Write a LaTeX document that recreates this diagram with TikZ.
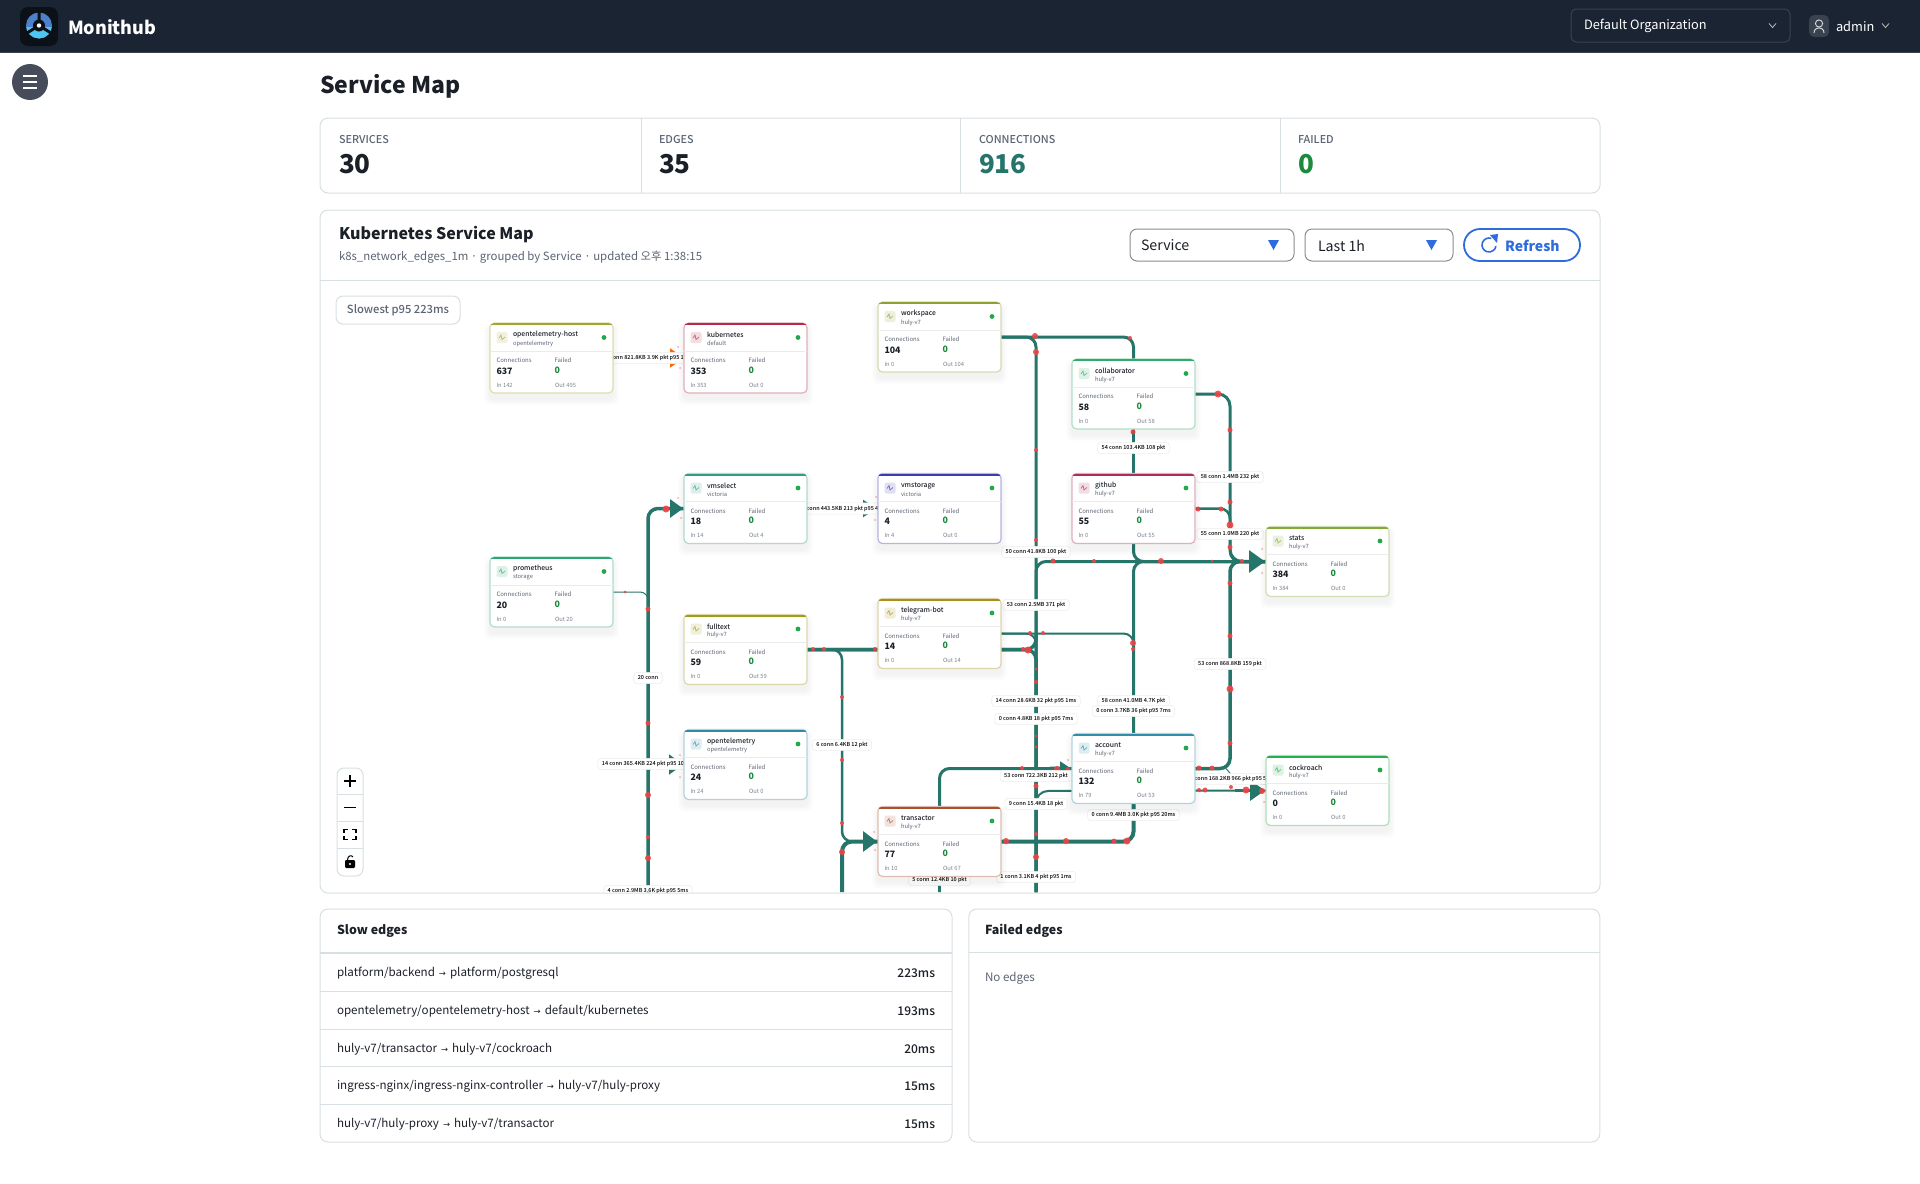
\documentclass[tikz,border=0pt]{standalone}
\usepackage{fontspec}
\setmainfont{Noto Sans CJK KR}
\newfontfamily\medfont{Noto Sans CJK KR Medium}
\newfontfamily\symfont{DejaVu Sans}
\usetikzlibrary{arrows.meta}

\definecolor{navbar}{HTML}{1A2433}
\definecolor{navedge}{HTML}{39434F}
\definecolor{panelline}{HTML}{D8DFE2}
\definecolor{flow}{HTML}{26756B}
\definecolor{pkt}{HTML}{EF4444}
\definecolor{inkmain}{HTML}{1B1F27}
\definecolor{inkmuted}{HTML}{5C6573}
\definecolor{okgreen}{HTML}{1A8A3C}
\definecolor{linkblue}{HTML}{2F6BDC}
\definecolor{sidebtn}{HTML}{474C5A}
\definecolor{dotgreen}{HTML}{22A84A}
% top bars of the cards
\definecolor{topohost}{HTML}{A3A52E}
\definecolor{topkube}{HTML}{B32A4A}
\definecolor{topwork}{HTML}{8F9F30}
\definecolor{topcollab}{HTML}{2FAA68}
\definecolor{topvmsel}{HTML}{2F9E85}
\definecolor{topstore}{HTML}{3C3CB0}
\definecolor{topghub}{HTML}{AE2C5C}
\definecolor{topprom}{HTML}{2CA672}
\definecolor{topstats}{HTML}{84A83A}
\definecolor{topfull}{HTML}{A09C1E}
\definecolor{topbot}{HTML}{A88F1F}
\definecolor{topotel}{HTML}{2F8AA5}
\definecolor{topacct}{HTML}{2F8EA8}
\definecolor{topcrdb}{HTML}{26AD4D}
\definecolor{toptrans}{HTML}{A8502F}

\newcommand{\fsz}[1]{\fontsize{#1}{#1}\selectfont}

\tikzset{
    lbl/.style={inner sep=0pt,outer sep=0pt,anchor=west,text=inkmain},
    panel/.style={draw=panelline,line width=0.5pt,fill=white,rounded corners=4pt,
        inner sep=0pt,outer sep=0pt},
    rule/.style={draw=panelline,line width=0.5pt},
    select/.style={draw=#1,line width=0.5pt,fill=white,rounded corners=3.5pt,
        inner sep=0pt,outer sep=0pt},
    wire/.style={draw=flow,line width=#1*0.5pt,rounded corners=5pt,line cap=butt},
    wire/.default=3,
    bigtip/.style 2 args={-{Triangle[length=#1*0.5pt,width=#2*0.5pt,fill=flow]},shorten >=0.5pt},
    edgelbl/.style={fill=white,draw=black!7,line width=0.3pt,rounded corners=1.5pt,
        font=\medfont\fsz{2.75},text=black,inner xsep=2pt,inner ysep=0pt,
        minimum height=5.6pt,outer sep=0pt},
    cardbox/.style={draw=#1!38!white,line width=0.6pt,fill=white,rounded corners=2.2pt,
        minimum width=61.5pt,minimum height=35pt,inner sep=0pt,outer sep=0pt},
    zoombtn/.style={draw=black,line width=0.7pt,line cap=butt},
}

% one service card, centre at (#2,#3)
\newcommand{\svccard}[8]{%
    \begin{scope}[shift={(#2,#3)}]
        \foreach \s in {1,...,6}
            \fill[black,opacity=0.009,rounded corners=3pt]
                (-61.5-\s,-35-\s+6) rectangle (61.5+\s,35+\s+6);
    \end{scope}
    \node[cardbox=#8] (#1) at (#2,#3) {};
    \begin{scope}[shift={(#2,#3)}]
        \begin{scope}
            \clip[rounded corners=2.2pt] (-61.5,-35) rectangle (61.5,35);
            \fill[#8] (-61.5,-35) rectangle (61.5,-32.6);
        \end{scope}
        \draw[black!8,line width=0.4pt] (-61.5,-7) -- (61.5,-7);
        \fill[#8!16!white,rounded corners=1pt] (-55,-26) rectangle (-44,-15);
        \draw[#8!75!white,line width=0.35pt] (-52.5,-20) -- (-50.5,-23) -- (-49.5,-18.5) -- (-46.5,-21);
        \fill[dotgreen] (52.5,-20.5) circle (2.4);
        \node[lbl,font=\medfont\fsz{3.4}] (#1-title) at (-38.5,-23) {#4};
        \node[lbl,font=\fsz{2.9},text=inkmuted] (#1-ns) at (-38.5,-14.5) {#5};
        \node[lbl,font=\fsz{3},text=inkmuted] (#1-connlbl) at (-55,2.5) {Connections};
        \node[lbl,font=\bfseries\fsz{4.4}] (#1-conn) at (-55,13) {#6};
        \node[lbl,font=\fsz{3},text=inkmuted] (#1-faillbl) at (3,2.5) {Failed};
        \node[lbl,font=\bfseries\fsz{4.4},text=okgreen] (#1-fail) at (3,12) {0};
        \node[lbl,font=\fsz{2.9},text=inkmuted!80!white] (#1-in) at (-55,27) {In #7};
    \end{scope}%
}
\newcommand{\svcout}[4]{%
    \node[lbl,font=\fsz{2.9},text=inkmuted!80!white] (#1-out) at (#2,#3) {Out #4};%
}

\begin{document}
\begin{tikzpicture}[x=0.5pt,y=-0.5pt]
    \useasboundingbox (0,0) rectangle (1920,1183);
    \fill[white] (0,0) rectangle (1920,1183);

    % top bar
    \fill[navbar] (0,0) rectangle (1920,52);
    \draw[navedge,line width=0.5pt] (0,52.5) -- (1920,52.5);
    \fill[black!55!navbar,rounded corners=4pt] (20,7) rectangle (58,46);
    \fill[cyan!45!blue!75!white] (39,25.5) circle (13);
    \begin{scope}
        \clip (26,27) rectangle (52,40);
        \fill[cyan!70!white] (39,25.5) circle (13);
    \end{scope}
    \draw[black!55!navbar,line width=1.5pt] (39,25.5) -- (39,11) (39,25.5) -- (27,33) (39,25.5) -- (51,33);
    \fill[black!55!navbar] (39,25.5) circle (6);
    \fill[white] (39,25.5) circle (2.2);
    \node[lbl,font=\bfseries\fsz{9},text=white] (brand) at (68,27) {Monithub};
    \draw[navedge,line width=0.5pt,rounded corners=2.5pt] (1571,9) rectangle (1790,42);
    \node[lbl,font=\fsz{6.4},text=white] (orgname) at (1584,26) {Default Organization};
    \draw[white!70!navbar,line width=0.4pt] (1769,23.5) -- (1772.5,27.5) -- (1776,23.5);
    \fill[navedge,rounded corners=2.5pt] (1809,15) rectangle (1829,37);
    \draw[white!85!navbar,line width=0.45pt] (1819,23.5) circle (3.6);
    \draw[white!85!navbar,line width=0.45pt] (1814,33) .. controls (1814,26) and (1824,26) .. (1824,33);
    \node[lbl,font=\fsz{6.4},text=white] (adminname) at (1836,26) {admin};
    \draw[white!70!navbar,line width=0.4pt] (1882,23.5) -- (1885.5,27.5) -- (1889,23.5);

    % side button
    \fill[sidebtn] (30,82) circle (18);
    \draw[white,line width=0.9pt] (23,76) -- (37,76) (23,82) -- (37,82) (23,88) -- (37,88);

    \node[lbl,font=\bfseries\fsz{11.5}] (pagetitle) at (320,86) {Service Map};

    % totals
    \node[panel,minimum width=640pt,minimum height=37.5pt] (totals) at (960,155.5) {};
    \draw[rule] (641.5,118) -- (641.5,193) (960,118) -- (960,193) (1280,118) -- (1280,193);
    \foreach \k/\px/\cap/\val/\tone in {a/339/SERVICES/30/inkmain,b/659/EDGES/35/inkmain,c/979/CONNECTIONS/916/flow,d/1298/FAILED/0/okgreen}{
        \node[lbl,font=\medfont\fsz{5.4},text=inkmuted] (total-\k) at (\px,139.5) {\cap};
        \node[lbl,font=\bfseries\fsz{13},text=\tone] (value-\k) at (\px,164) {\val};
    }

    % map panel
    \node[panel,minimum width=640pt,minimum height=341.5pt] (mappanel) at (960,551.5) {};
    \draw[rule] (320,280.5) -- (1600,280.5);
    \node[lbl,font=\bfseries\fsz{8},text=inkmain] (maptitle) at (339,235) {Kubernetes Service Map};
    \node[lbl,font=\fsz{5.7},text=inkmuted] (mapsub) at (339,257.5) {k8s\_network\_edges\_1m · grouped by Service · updated 오후 1:38:15};
    \node[select=black!45,minimum width=82pt,minimum height=16pt] (groupsel) at (1212,245) {};
    \node[lbl,font=\fsz{7.1}] (grouptext) at (1141,245.5) {Service};
    \fill[linkblue] (1268,240) -- (1279,240) -- (1273.5,250) -- cycle;
    \node[select=black!45,minimum width=74pt,minimum height=16pt] (rangesel) at (1379,245) {};
    \node[lbl,font=\fsz{7.1}] (rangetext) at (1318,245.5) {Last 1h};
    \fill[linkblue] (1426,240) -- (1437,240) -- (1431.5,250) -- cycle;
    \node[select=linkblue,line width=0.9pt,rounded corners=8pt,minimum width=58pt,minimum height=16pt] (refreshbtn) at (1522,245) {};
    \draw[linkblue,line width=0.8pt] (1489,245) ++(-70:7) arc[start angle=-70,end angle=-350,radius=7];
    \fill[linkblue] (1490,235) -- (1498,234) -- (1497,243) -- cycle;
    \node[lbl,font=\bfseries\fsz{7},text=linkblue] (refreshtext) at (1505,245.5) {Refresh};

    \node[select=panelline,minimum width=62pt,minimum height=14pt] (slowbadge) at (398,310) {};
    \node[lbl,font=\medfont\fsz{5.6},text=inkmuted,anchor=center] (slowtext) at (398,310) {Slowest p95 223ms};

    % anchors of the cards, so that the edges can go first
    \foreach \nm/\cx/\cy in {ohost/551.5/358,kube/745.5/358,vmsel/745.5/508.5,prom/551.5/592,
        fullt/745.5/649.5,otel/745.5/764.5,wspace/939.5/337,collab/1133.5/394,vmstore/939.5/508.5,
        ghub/1133.5/508.5,statsn/1327.5/561.5,tbot/939.5/633.5,acct/1133.5/768.5,crdb/1327.5/790.5,
        trans/939.5/841.5}
        \coordinate (\nm) at (\cx,\cy);
    \coordinate (b648) at (648,900);
    \coordinate (b842) at (842,900);
    \coordinate (b939) at (939.5,900);
    \coordinate (b1036) at (1036,900);
    \coordinate (bus1) at (1036,561.5);
    \coordinate (bus2) at (1133.5,561.5);
    \coordinate (bus3) at (1230,561.5);
    \coordinate (bus4) at (842,841.5);
    \coordinate (bus5) at (1036,791);
    \coordinate (bus6) at (1036,649.5);
    \coordinate (bus7) at (1036,633.5);

    \begin{scope}
        \clip[rounded corners=4pt] (321,281) rectangle (1599,892);

        \draw[wire=3] (wspace) -| (collab);
        \draw[wire=3] (wspace) -| (b1036);
        \draw[wire=3] (collab) -- (ghub);
        \draw[wire=3,rounded corners=6pt] (collab) -| (bus3) -- (statsn);
        \draw[wire=2.5] (ghub) -| (bus3) -- (statsn);
        \draw[wire=3] (ghub) -- (bus2) -- (statsn);
        \draw[wire=3] (acct) -- (bus2) -- (statsn);
        \draw[wire=3] (b1036) -- (bus1) -- (statsn);
        \draw[wire=3.5] (acct) -| (bus3) -- (statsn);
        \draw[wire=2] (tbot) -| (acct);
        \draw[wire=2] (tbot) -| (b1036);
        \draw[wire=3.5] (fullt) -- (bus6) -- (bus7);
        \draw[wire=3.5] (fullt) -- (bus6) -- (b1036);
        \draw[wire=2.5] (fullt) -| (bus4) -- (trans);
        \draw[wire=4] (b842) -- (bus4) -- (trans);
        \draw[wire=4] (trans) -| (acct);
        \draw[wire=3] (trans) |- (acct);
        \draw[wire=3] (b939) -- (trans);
        \draw[wire=2,rounded corners=6pt] (b1036) -- (bus5) -- (crdb);
        \draw[wire=3] (acct) -- (crdb);
        \draw[wire=3.5] (b648) |- (vmsel);
        \draw[wire=1,rounded corners=4pt] (prom) -| (b648);
        \draw[wire=2] (b648) |- (otel);

        % big heads
        \draw[wire=3,bigtip={16}{22}] (1240,561.5) -- (statsn -| 1266,0);
        \draw[wire=3,bigtip={14}{20}] (855,841.5) -- (trans -| 878,0);
        \draw[wire=3,bigtip={11}{13}] (1050,768) -- (acct -| 1072,0);
        \draw[wire=3,bigtip={13}{18}] (660,508.5) -- (vmsel -| 684,0);
        \draw[wire=3,bigtip={15}{20}] (1235,790.5) -- (crdb -| 1266,0);
        \draw[wire=2,bigtip={14}{20}] (660,764.5) -- (otel -| 684,0);
        \draw[wire=2,bigtip={14}{17}] (850,508.5) -- (vmstore -| 878,0);
        \draw[wire=2,draw=orange!80!red,-{Triangle[length=7pt,width=9.5pt,fill=orange!80!red]}] (655,358) -- (kube -| 684,0);
        \draw[flow,line width=0.5pt] (1226,768.5) -- (1232,775.5);

        % moving packets
        \foreach \px/\py/\r in {666/509/3.5,648/609/2.5,625/592/1.5,648/723/2.5,648/795/3,648/837/2,648/858/3,
            813/649/2,824/649/2,875/649/2,842/697/2,842/760/2,842/823/2,842/852/3,
            1035/336/3,1036/352/3,1036/450/2,1036/540/2,1130/338/2,1218/394/3.5,1230/430/2.5,1133/432/2.5,
            1230/502/2.5,1198/509/2.5,1221/509/2.5,1230/525/3.5,1230/547/2.5,1053/561/2.5,1094/561/2,
            1161/561/3,1212/561/1.5,1242/561/2,1230/583/2.5,1030/633/2,1043/633/2,1023/649/2,1028/650/3.5,
            1133/643/3,1133/649/2,1036/669/1.5,1036/682/2,1230/636/2.5,1230/689/3.5,1230/743/2.5,1036/736/1.5,
            1036/747/1.5,1022/768/2,1057/769/3,1068/769/2,1036/786/2.5,1036/834/2,1036/857/3,1006/841/3,
            1066/841/3,1114/841/2.5,1127/841/3.5,1199/768/2.5,1212/768/2.5,1199/790/2,1205/790/2.5,1246/790/3.5,
            1231/787/2,1262/791/3}
            \fill[pkt,opacity=0.9] (\px,\py) circle (\r);
        \foreach \px/\py in {678/498/1,681/518/1,680/755/1,680/777/1,678/347/1,680/368/1,876/497/1,875/520/1,
            1262/549/1,1262/573/1,874/832/1,875/850/1,1068/760/1,1264/782/1,1264/802/1}
            \fill[pkt!45!white] (\px,\py) circle (1);

        % edge labels
        \node[edgelbl] (lbl-a) at (1133.5,448) {54 conn 103.4KB 108 pkt};
        \node[edgelbl] (lbl-b) at (1230,477) {58 conn 1.4MB 232 pkt};
        \node[edgelbl] (lbl-c) at (1230,534) {55 conn 1.0MB 220 pkt};
        \node[edgelbl] (lbl-d) at (1036,552) {50 conn 41.8KB 100 pkt};
        \node[edgelbl] (lbl-e) at (1036,605) {53 conn 2.5MB 371 pkt};
        \node[edgelbl] (lbl-f) at (1230,664) {53 conn 868.8KB 159 pkt};
        \node[edgelbl] (lbl-g) at (1036,701) {14 conn 28.6KB 32 pkt p95 1ms};
        \node[edgelbl] (lbl-h) at (1036,719) {0 conn 4.8KB 18 pkt p95 7ms};
        \node[edgelbl] (lbl-i) at (1133.5,701) {58 conn 41.0MB 4.7K pkt};
        \node[edgelbl] (lbl-j) at (1133.5,711) {0 conn 3.7KB 36 pkt p95 7ms};
        \node[edgelbl] (lbl-k) at (1036,776) {53 conn 722.3KB 212 pkt};
        \node[edgelbl] (lbl-l) at (1036,804) {9 conn 15.4KB 18 pkt};
        \node[edgelbl] (lbl-m) at (1133.5,815) {0 conn 9.4MB 3.0K pkt p95 20ms};
        \node[edgelbl] (lbl-n) at (939.5,880) {5 conn 12.4KB 10 pkt};
        \node[edgelbl] (lbl-o) at (1036,877) {1 conn 3.1KB 4 pkt p95 1ms};
        \node[edgelbl] (lbl-p) at (648,678) {20 conn};
        \node[edgelbl] (lbl-q) at (842,745) {6 conn 6.4KB 12 pkt};
        \node[edgelbl] (lbl-r) at (648,891) {4 conn 2.9MB 3.6K pkt p95 5ms};
        \node[edgelbl] (lbl-s) at (648.5,358) {conn 821.8KB 3.9K pkt p95 19};
        \node[edgelbl] (lbl-t) at (842.5,508.5) {conn 443.5KB 213 pkt p95 4};
        \node[edgelbl] (lbl-u) at (643,764) {14 conn 365.4KB 224 pkt p95 10};
        \node[edgelbl] (lbl-v) at (1230.5,779) {conn 168.2KB 966 pkt p95 5};
    \end{scope}

    % service cards
    \svccard{ohost-c}{551.5}{358}{opentelemetry-host}{opentelemetry}{637}{142}{topohost}
    \svcout{ohost-c}{555}{385}{495}
    \svccard{kube-c}{745.5}{358}{kubernetes}{default}{353}{353}{topkube}
    \svcout{kube-c}{749}{385}{0}
    \svccard{wspace-c}{939.5}{337}{workspace}{huly-v7}{104}{0}{topwork}
    \svcout{wspace-c}{943}{364}{104}
    \svccard{collab-c}{1133.5}{394}{collaborator}{huly-v7}{58}{0}{topcollab}
    \svcout{collab-c}{1137}{421}{58}
    \svccard{vmsel-c}{745.5}{508.5}{vmselect}{victoria}{18}{14}{topvmsel}
    \svcout{vmsel-c}{749}{535.5}{4}
    \svccard{vmstore-c}{939.5}{508.5}{vmstorage}{victoria}{4}{4}{topstore}
    \svcout{vmstore-c}{943}{535.5}{0}
    \svccard{ghub-c}{1133.5}{508.5}{github}{huly-v7}{55}{0}{topghub}
    \svcout{ghub-c}{1137}{535.5}{55}
    \svccard{prom-c}{551.5}{592}{prometheus}{storage}{20}{0}{topprom}
    \svcout{prom-c}{555}{619}{20}
    \svccard{stats-c}{1327.5}{561.5}{stats}{huly-v7}{384}{384}{topstats}
    \svcout{stats-c}{1331}{588.5}{0}
    \svccard{fullt-c}{745.5}{649.5}{fulltext}{huly-v7}{59}{0}{topfull}
    \svcout{fullt-c}{749}{676.5}{59}
    \svccard{tbot-c}{939.5}{633.5}{telegram-bot}{huly-v7}{14}{0}{topbot}
    \svcout{tbot-c}{943}{660.5}{14}
    \svccard{otel-c}{745.5}{764.5}{opentelemetry}{opentelemetry}{24}{24}{topotel}
    \svcout{otel-c}{749}{791.5}{0}
    \svccard{acct-c}{1133.5}{768.5}{account}{huly-v7}{132}{79}{topacct}
    \svcout{acct-c}{1137}{795.5}{53}
    \svccard{crdb-c}{1327.5}{790.5}{cockroach}{huly-v7}{0}{0}{topcrdb}
    \svcout{crdb-c}{1331}{817.5}{0}
    \svccard{trans-c}{939.5}{841.5}{transactor}{huly-v7}{77}{10}{toptrans}
    \svcout{trans-c}{943}{868.5}{67}

    % zoom buttons
    \node[select=panelline,minimum width=13pt,minimum height=54pt] (zoombar) at (350,822) {};
    \draw[rule] (337,794.5) -- (363,794.5) (337,821.5) -- (363,821.5) (337,848.5) -- (363,848.5);
    \draw[zoombtn] (344,781) -- (356,781) (350,775) -- (350,787);
    \draw[zoombtn] (344,807.5) -- (356,807.5);
    \draw[zoombtn,line cap=butt] (344,833) -- (344,829.5) -- (348,829.5) (352,829.5) -- (356,829.5) -- (356,833)
        (356,836) -- (356,839.5) -- (352,839.5) (348,839.5) -- (344,839.5) -- (344,836);
    \fill[black,rounded corners=0.6pt] (345,860) rectangle (355,868);
    \draw[black,line width=0.5pt] (347.5,860) .. controls (347.5,855) and (352,855) .. (353,857);
    \fill[white] (350,864) circle (1.1);

    % slow edges
    \node[panel,minimum width=316pt,minimum height=116.5pt] (slowpanel) at (636,1025.5) {};
    \draw[panelline,line width=1pt] (320,953) -- (952,953);
    \node[lbl,font=\bfseries\fsz{6.2}] (slowhead) at (337,931) {Slow edges};
    \draw[rule] (320,991) -- (952,991) (320,1029) -- (952,1029) (320,1066) -- (952,1066) (320,1104) -- (952,1104);
    \foreach \k/\py/\src/\dst/\ms in {a/973/platform\slash backend/platform\slash postgresql/223ms,
        b/1011/opentelemetry\slash opentelemetry-host/default\slash kubernetes/193ms,
        c/1049/huly-v7\slash transactor/huly-v7\slash cockroach/20ms,
        d/1086/ingress-nginx\slash ingress-nginx-controller/huly-v7\slash huly-proxy/15ms,
        e/1124/huly-v7\slash huly-proxy/huly-v7\slash transactor/15ms}{
        \node[lbl,font=\fsz{5.8}] (slowrow-\k) at (337,\py) {\src\hspace{2pt}{\symfont\fsz{4.2}→}\hspace{2pt}\dst};
        \node[lbl,anchor=east,font=\medfont\fsz{6}] (slowms-\k) at (935,\py) {\ms};
    }

    % failed edges
    \node[panel,minimum width=315.5pt,minimum height=116.5pt] (failpanel) at (1284.25,1025.5) {};
    \draw[rule] (969,952) -- (1600,952);
    \node[lbl,font=\bfseries\fsz{6.2}] (failhead) at (985,931) {Failed edges};
    \node[lbl,font=\fsz{5.8},text=inkmuted] (failnone) at (985,978) {No edges};
\end{tikzpicture}
\end{document}
